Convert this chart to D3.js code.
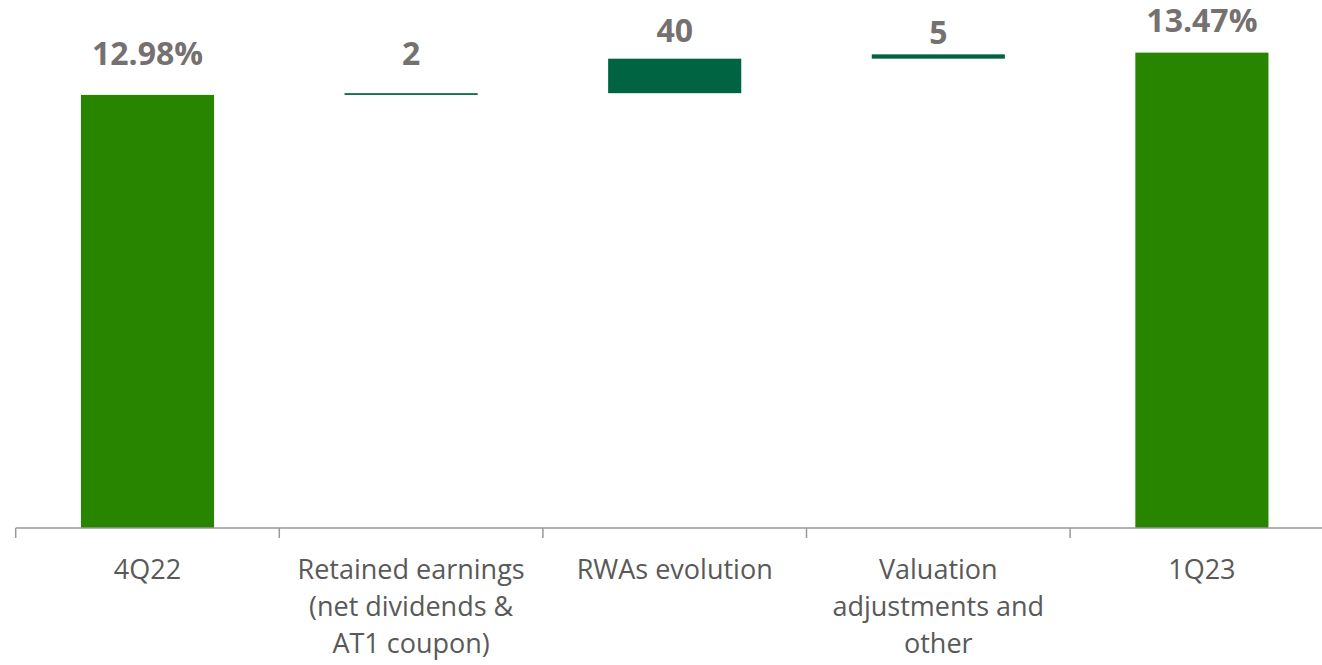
<!DOCTYPE html>
<html>
<head>
<meta charset="utf-8">
<script src="https://cdn.jsdelivr.net/npm/d3@7"></script>
<style>
  body { margin: 0; background: #fff; }
  svg { display: block; }
</style>
</head>
<body>
<svg width="1322" height="665"></svg>
<script>
// Data
var categories = [
  ["4Q22"],
  ["Retained earnings", "(net dividends &", "AT1 coupon)"],
  ["RWAs evolution"],
  ["Valuation", "adjustments and", "other"],
  ["1Q23"]
];
var kinds = ["total", "delta", "delta", "delta", "total"];
// totals in %, deltas in basis points
var values = [12.98, 2, 40, 5, 13.47];
var labels = ["12.98%", "2", "40", "5", "13.47%"];
// how far each label sits above its bar (px)
var labelLift = [30, 28, 17, 10, 21];

var svg = d3.select("svg"),
  width = +svg.attr("width"),
  height = +svg.attr("height");

// build waterfall steps
var running = 0;
var steps = values.map(function (v, i) {
  var lo, hi;
  if (kinds[i] == "total") {
    lo = null; hi = v; running = v;
  } else {
    lo = running; hi = running + v / 100; running = hi;
  }
  return { i: i, kind: kinds[i], lo: lo, hi: hi, label: labels[i] };
});

var x = d3.scaleBand()
  .domain(d3.range(categories.length))
  .range([15.7, 1333.7])
  .padding(0);

var y = d3.scaleLinear()
  .domain([7.96, 14.08])
  .range([528, 0]);

var barW = x.bandwidth() * 0.505;

// bars
svg.append("g")
  .selectAll("rect")
  .data(steps)
  .enter()
  .append("rect")
  .attr("x", function (d) { return x(d.i) + (x.bandwidth() - barW) / 2; })
  .attr("width", barW)
  .attr("y", function (d) { return y(d.hi); })
  .attr("height", function (d) {
    var base = d.lo == null ? y.domain()[0] : d.lo;
    return y(base) - y(d.hi);
  })
  .attr("fill", function (d) { return d.kind == "total" ? "#278500" : "#006341"; });

// axis line + ticks at band edges
var axis = svg.append("g");
axis.append("line")
  .attr("x1", x.range()[0]).attr("x2", width)
  .attr("y1", y.range()[0]).attr("y2", y.range()[0])
  .attr("stroke", "#999").attr("stroke-width", 1.5);
axis.selectAll("line.tick")
  .data(d3.range(categories.length))
  .enter()
  .append("line")
  .attr("class", "tick")
  .attr("x1", function (d) { return x(d); })
  .attr("x2", function (d) { return x(d); })
  .attr("y1", y.range()[0])
  .attr("y2", y.range()[0] + 10)
  .attr("stroke", "#999").attr("stroke-width", 1.5);

// category labels
var cat = svg.append("g")
  .selectAll("text")
  .data(categories)
  .enter()
  .append("text")
  .attr("text-anchor", "middle")
  .attr("font-family", "'Open Sans', sans-serif")
  .attr("font-size", 27)
  .attr("fill", "#595959");
cat.selectAll("tspan")
  .data(function (d, i) { return d.map(function (t) { return { t: t, i: i }; }); })
  .enter()
  .append("tspan")
  .attr("x", function (d) { return x(d.i) + x.bandwidth() / 2; })
  .attr("y", function (d, j) { return 579 + j * 37; })
  .text(function (d) { return d.t; });

// value labels
svg.append("g")
  .selectAll("text")
  .data(steps)
  .enter()
  .append("text")
  .attr("text-anchor", "middle")
  .attr("font-family", "'Open Sans', sans-serif")
  .attr("font-weight", "bold")
  .attr("font-size", 32)
  .attr("fill", "#767171")
  .attr("x", function (d) { return x(d.i) + x.bandwidth() / 2; })
  .attr("y", function (d) { return y(d.hi) - labelLift[d.i]; })
  .text(function (d) { return d.label; });
</script>
</body>
</html>
